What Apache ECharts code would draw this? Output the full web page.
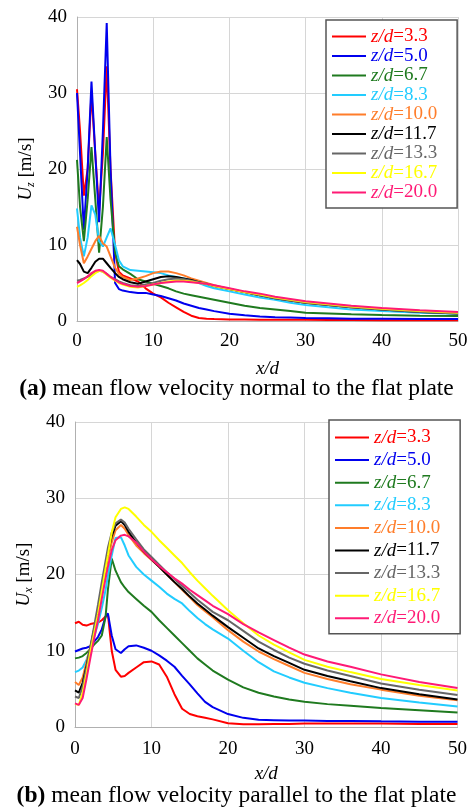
<!DOCTYPE html>
<html><head><meta charset="utf-8">
<script src="https://cdn.jsdelivr.net/npm/echarts@6/dist/echarts.min.js"></script>
<style>html,body{margin:0;padding:0;background:#fff}#c{width:473px;height:812px}</style>
</head><body><div id="c"></div>
<script>
const seriesNames = ['z/d=3.3','z/d=5.0','z/d=6.7','z/d=8.3','z/d=10.0','z/d=11.7','z/d=13.3','z/d=16.7','z/d=20.0'];
const seriesColors = ['#ff0000','#0000ee','#1f7a1f','#22ccff','#ff7d2a','#000000','#666666','#ffff00','#ff1a75'];
const xTicks = [0,10,20,30,40,50];
const yTicks = [0,10,20,30,40];

// (a) Uz, normal to plate
const xTop = [0,0.4,0.9,1.4,1.9,2.4,2.9,3.4,3.9,4.4,5,5.5,6,7,8,9,10,11,12,13,14,15,16,17,18,20,22,24,26,28,30,33,36,40,45,50];
const uz_33 = [30.5,25,16.5,20,30,22,14.5,22,33.5,20,9,6.5,6,5.6,5.2,4.3,3.6,3.1,2.4,1.8,1.2,0.7,0.4,0.3,0.25,0.2,0.2,0.15,0.15,0.15,0.15,0.12,0.12,0.1,0.1,0.1];
const uz_50 = [30,22,12,20,31.5,22,13,25,39.2,20,5,4.2,4,3.8,3.7,3.7,3.5,3.3,3.0,2.7,2.3,2.0,1.7,1.5,1.3,0.95,0.75,0.6,0.5,0.45,0.4,0.35,0.3,0.3,0.25,0.25];
const uz_67 = [21.2,15,10.5,16,22.9,16,9,15,24.2,16,9,7.2,6.8,6.2,5.5,5.2,4.9,4.6,4.3,3.9,3.6,3.4,3.2,3.0,2.8,2.4,2.0,1.7,1.5,1.3,1.1,1.0,0.9,0.8,0.7,0.65];
const uz_83 = [14.8,11,8.5,11,15.2,14,10.5,9.8,11,12.2,10,8,7.2,6.7,6.6,6.5,6.4,6.3,6.0,5.8,5.6,5.4,5.0,4.6,4.3,3.9,3.5,3.1,2.8,2.4,2.1,1.8,1.5,1.3,1.1,0.95];
const uz_100 = [12.4,10,7.6,8.5,9.5,10.5,11.2,10.2,9.8,8.5,7,6.2,5.8,5.4,5.6,5.9,6.3,6.5,6.5,6.3,6.0,5.6,5.3,5.0,4.7,4.2,3.8,3.4,3.1,2.7,2.4,2.1,1.8,1.6,1.3,1.1];
const uz_117 = [8.0,7.5,6.5,6.3,7.0,7.8,8.2,8.2,7.6,7.0,6.3,5.8,5.5,5.1,4.9,5.2,5.5,5.8,5.9,5.8,5.6,5.4,5.1,4.9,4.6,4.2,3.8,3.4,3.0,2.7,2.4,2.1,1.8,1.5,1.2,1.0];
const uz_133 = [5.3,5.4,5.6,5.8,6.1,6.4,6.6,6.5,6.2,5.8,5.5,5.2,5.0,4.7,4.6,4.8,5.0,5.3,5.5,5.6,5.5,5.3,5.1,4.9,4.6,4.2,3.8,3.4,3.0,2.7,2.4,2.1,1.8,1.5,1.2,1.0];
const uz_167 = [4.5,4.7,5.0,5.4,5.9,6.3,6.6,6.5,6.1,5.7,5.3,5.0,4.8,4.5,4.4,4.6,4.8,5.0,5.2,5.3,5.3,5.2,5.0,4.9,4.6,4.2,3.8,3.5,3.1,2.8,2.5,2.2,1.9,1.6,1.3,1.1];
const uz_200 = [5.0,5.2,5.5,5.9,6.3,6.6,6.7,6.6,6.2,5.8,5.4,5.1,4.9,4.6,4.5,4.6,4.8,5.0,5.1,5.2,5.2,5.1,5.0,4.9,4.7,4.3,3.9,3.6,3.2,2.9,2.6,2.3,2.0,1.7,1.4,1.2];

// (b) Ux, parallel to plate
const xBot = [0,0.5,1,1.5,2,2.5,3,3.5,4,4.3,4.8,5.3,6,6.5,7,8,9,10,11,12,13,14,15,16,17,18,20,22,24,26,28,30,33,36,40,45,50];
const ux_33 = [13.6,13.8,13.4,13.3,13.5,13.6,13.7,14.0,14.5,14.8,10,7.5,6.6,6.7,7.1,7.8,8.5,8.6,8.2,6.6,4.3,2.4,1.7,1.4,1.2,1.0,0.5,0.35,0.35,0.4,0.4,0.45,0.45,0.45,0.45,0.4,0.4];
const ux_50 = [9.9,10.1,10.3,10.4,10.6,11.2,11.8,12.8,14.5,14.9,12,10.2,9.7,10.2,10.6,10.7,10.4,10.0,9.4,8.7,7.9,6.7,5.6,4.4,3.3,2.6,1.7,1.2,0.95,0.9,0.85,0.85,0.8,0.8,0.75,0.7,0.7];
const ux_67 = [9.0,9.1,9.3,9.7,10.2,10.8,11.3,12.0,14.5,18,22.1,20.5,19.0,18.3,17.7,16.8,15.9,15.1,14.0,13.0,12.0,11.0,10.0,9.0,8.2,7.4,6.2,5.2,4.5,4.0,3.6,3.3,3.0,2.8,2.5,2.2,1.9];
const ux_83 = [7.2,7.4,7.8,8.8,10.2,11.8,13.5,15.6,18,19.8,22.5,24.8,24.9,23.8,22.5,21.0,20.0,19.2,18.4,17.5,16.8,16.2,15.2,14.3,13.5,12.8,11.6,10.0,8.5,7.3,6.5,5.8,5.1,4.5,3.8,3.2,2.7];
const ux_100 = [5.9,5.5,6.5,8.5,10.5,12.8,15,17.8,20.5,22,24.2,25.8,26.5,26.0,25.2,23.8,22.8,21.9,21.0,20.0,19.0,18.0,17.0,16.0,15.2,14.4,12.7,11.2,9.9,8.9,8.0,7.1,6.3,5.6,4.9,4.1,3.5];
const ux_117 = [4.8,4.5,5.8,8,10.3,12.8,15.3,18.2,21,22.8,25,26.4,27.0,26.5,25.6,24.2,23.0,22.0,21.0,20.0,19.0,18.1,17.1,16.2,15.4,14.6,13.1,11.7,10.3,9.3,8.4,7.5,6.7,6.0,5.1,4.3,3.6];
const ux_133 = [4.0,3.8,5.3,7.8,10.5,13.2,16,19,21.8,23.5,25.5,26.7,27.2,26.8,26.0,24.6,23.3,22.3,21.3,20.3,19.4,18.5,17.6,16.7,15.9,15.1,14.0,12.6,11.2,10.1,9.1,8.3,7.4,6.7,5.7,4.9,4.2];
const ux_167 = [3.0,2.9,4.5,7,9.8,12.3,14.8,17.8,20.8,22.5,25.5,27.5,28.6,28.8,28.6,27.6,26.5,25.6,24.5,23.5,22.5,21.5,20.3,19.2,18.2,17.2,15.3,13.6,12.0,10.8,9.8,8.8,7.9,7.2,6.3,5.5,4.8];
const ux_200 = [3.1,2.9,3.8,6.3,9.0,11.6,14.0,16.8,19.5,21,23.2,24.5,25.1,25.2,25.0,24.2,23.0,22.0,21.1,20.3,19.5,18.8,18.0,17.3,16.6,15.9,14.8,13.5,12.4,11.4,10.4,9.5,8.6,7.9,6.9,5.9,5.1];

const topVals = [uz_33,uz_50,uz_67,uz_83,uz_100,uz_117,uz_133,uz_167,uz_200];
const botVals = [ux_33,ux_50,ux_67,ux_83,ux_100,ux_117,ux_133,ux_167,ux_200];

const FF = '"Liberation Serif","Times New Roman",serif';
const chart = echarts.init(document.getElementById('c'), null, {renderer:'canvas'});

function mkX(idx){
  return {gridIndex:idx,type:'value',min:xTicks[0],max:xTicks[xTicks.length-1],interval:10,
    name:'{i|x/d}',nameLocation:'middle',nameGap:idx===0?38:37,
    nameTextStyle:{rich:{i:{fontFamily:FF,fontSize:19,fontStyle:'italic',color:'#000'}}},
    axisLine:{show:true,lineStyle:{color:'#b0b0b0',width:1}},axisTick:{show:false},
    axisLabel:{fontFamily:FF,fontSize:19,color:'#000',margin:idx===0?11:13},
    splitLine:{show:true,lineStyle:{color:'#d6d6d6',width:1}}};
}
function mkY(idx,sub){
  return {gridIndex:idx,type:'value',min:yTicks[0],max:yTicks[yTicks.length-1],interval:10,
    name:'{u|U}{s|'+sub+'}{n| [m/s]}',nameLocation:'middle',nameGap:idx===0?39:38,
    nameTextStyle:{rich:{
      u:{fontFamily:FF,fontSize:19,fontStyle:'italic',color:'#000',lineHeight:22},
      s:{fontFamily:FF,fontSize:12,fontStyle:'italic',color:'#000',lineHeight:12,verticalAlign:'bottom'},
      n:{fontFamily:FF,fontSize:19,color:'#000',lineHeight:22}}},
    axisLine:{show:true,lineStyle:{color:'#b0b0b0',width:1}},axisTick:{show:false},
    axisLabel:{fontFamily:FF,fontSize:19,color:'#000',margin:10},
    splitLine:{show:true,lineStyle:{color:'#d6d6d6',width:1}}};
}
function mkLegend(idx,left,top,gap,pad){
  return {orient:'vertical',left:left,top:top,itemWidth:34,itemHeight:12,itemGap:gap,
    padding:pad,borderColor:'#555',borderWidth:1.5,backgroundColor:'#fff',selectedMode:false,
    icon:'path://M0,5 L34,5 L34,7 L0,7 Z',
    data:seriesNames.map((n,i)=>({name:n,itemStyle:{color:seriesColors[i]},textStyle:{color:seriesColors[i]}})),
    formatter:function(n){return '{i|z/d}{n|='+n.split('=')[1]+'}';},
    textStyle:{fontFamily:FF,fontSize:19,lineHeight:18,
      rich:{i:{fontFamily:FF,fontSize:19,fontStyle:'italic',lineHeight:18},n:{fontFamily:FF,fontSize:19,lineHeight:18}}}};
}
const series=[];
[topVals,botVals].forEach((vals,g)=>{
  const xs = g===0?xTop:xBot;
  vals.forEach((v,i)=>{
    series.push({type:'line',name:seriesNames[i],xAxisIndex:g,yAxisIndex:g,symbol:'none',smooth:false,
      lineStyle:{color:seriesColors[i],width:2},itemStyle:{color:seriesColors[i]},
      data:xs.map((x,k)=>[x,v[k]]),animation:false,z:2+i});
  });
});
const capStyle = {fontFamily:FF,fontSize:23.5,fontWeight:'normal',color:'#000',rich:{b:{fontFamily:FF,fontSize:23.5,fontWeight:'bold',color:'#000'}}};
chart.setOption({
  animation:false,
  backgroundColor:'#fff',
  grid:[{left:77,right:15,top:17,height:304},{left:75,right:15.5,top:422,height:305}],
  xAxis:[mkX(0),mkX(1)],
  yAxis:[mkY(0,'z'),mkY(1,'x')],
  legend:[mkLegend(0,326,20,0.5,[7,20,6,6]),mkLegend(1,329,420,3.6,[8,20,6,6])],
  title:[
    {text:'{b|(a)} mean flow velocity normal to the flat plate',left:'center',top:377,padding:0,textStyle:capStyle},
    {text:'{b|(b)} mean flow velocity parallel to the flat plate',left:'center',top:784,padding:0,textStyle:capStyle}
  ],
  series:series
});
</script></body></html>
